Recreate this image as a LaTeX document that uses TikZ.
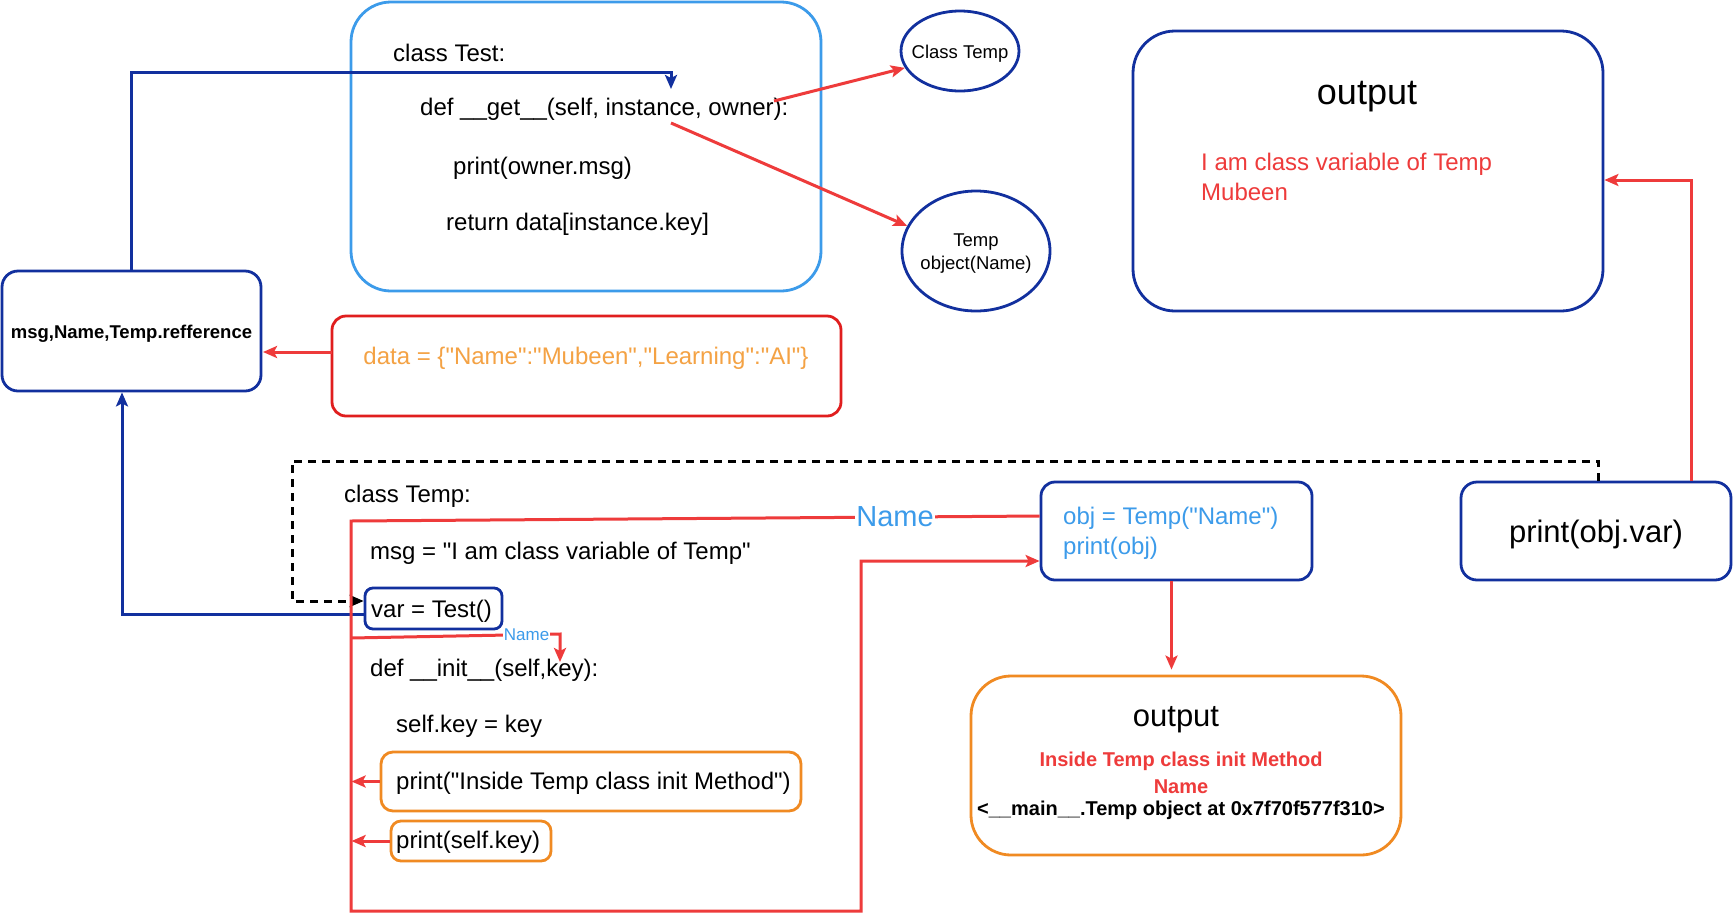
\documentclass[tikz,border=0pt]{standalone}
\usepackage{fontspec}
\setmainfont{Liberation Sans}[Ligatures=TeXOff]
\usetikzlibrary{arrows.meta,shapes.geometric}
\definecolor{dkblue}{HTML}{12309E}
\definecolor{ltblue}{HTML}{3C9BEA}
\definecolor{redl}{HTML}{EE3B3B}
\definecolor{redbox}{HTML}{E01E1E}
\definecolor{orng}{HTML}{F08A22}
\definecolor{orngtxt}{HTML}{F4A244}
\tikzset{
  fs/.style={font=\fontsize{#1}{#1}\selectfont},
  tx/.style={yshift=-2.5pt},
  code/.style={anchor=west,inner sep=0pt,fs=24,tx},
  rbox/.style={draw,line width=2.8pt,rounded corners=#1,inner sep=0pt},
  redline/.style={draw=redl,line width=3pt},
  redarrow/.style={redline,-{Stealth[length=14pt,width=12pt,inset=3pt]}},
  blueline/.style={draw=dkblue,line width=3pt},
  bluearrow/.style={blueline,-{Stealth[length=14pt,width=12pt,inset=3pt]}},
  dashline/.style={draw=black,line width=3pt,dash pattern=on 8pt off 6pt,-{Stealth[length=14pt,width=12pt,inset=3pt]}},
}
\begin{document}
\begin{tikzpicture}[x=1pt,y=-1pt]
\useasboundingbox[fill=white] (0,0) rectangle (1733,922);

% class Test box
\node[rbox=40pt,draw=ltblue,minimum width=470,minimum height=289] (test) at (586,146.5) {};
\node[code] (t1) at (393,50) {class Test:};
\node[code] (t2) at (420,107) {def \_\_get\_\_(self, instance, owner):};
\node[code] (t3) at (453,166) {print(owner.msg)};
\node[code] (t4) at (446,222) {return data[instance.key]};

% ellipses
\node[ellipse,draw=dkblue,line width=2.8pt,minimum width=118,minimum height=80,inner sep=0pt] (ct) at (960,51) {};
\node[fs=18.5,inner sep=0pt,tx] (ctl) at (ct) {Class Temp};
\node[ellipse,draw=dkblue,line width=2.8pt,minimum width=148,minimum height=120,inner sep=0pt] (to) at (976,251) {};
\node[font=\fontsize{18.5}{23}\selectfont,align=center,inner sep=0pt,tx] (tol) at (to) {Temp\\object(Name)};

\coordinate (ga) at (774,101);
\coordinate (gb) at (671,123);
\draw[redarrow] (ga) -- (ct.197);
\draw[redarrow] (gb) -- (to.160);

% output top right
\node[rbox=42pt,draw=dkblue,minimum width=470,minimum height=280] (out1) at (1368,171) {};
\node[fs=36,inner sep=0pt] (out1t) at (1367,96.5) {output};
\node[code,text=redl] (out1a) at (1201,162) {I am class variable of Temp};
\node[code,text=redl] (out1b) at (1201,189.5) {Mubeen};

% msg box
\node[rbox=16pt,draw=dkblue,minimum width=259,minimum height=120] (msg) at (131.5,331) {};
\node[font=\bfseries\fontsize{18.5}{18.5}\selectfont,inner sep=0pt,tx] (msgt) at (131.5,331) {msg,Name,Temp.refference};

% data box
\node[rbox=14pt,draw=redbox,minimum width=509,minimum height=100] (data) at (586.5,366) {};
\node[fs=24,text=orngtxt,inner sep=0pt,tx] (datat) at (586,356) {data = \{"Name":"Mubeen","Learning":"AI"\}};
\coordinate (dl) at (332,352);
\coordinate (ml) at (263,352);
\draw[redarrow] (dl) -- (ml);

% class Temp body
\node[code] (c1) at (344,494) {class Temp:};
\node[code] (c2) at (370,551) {msg = "I am class variable of Temp"};
\node[rbox=8pt,draw=dkblue,minimum width=137,minimum height=41] (var) at (433.5,608.5) {};
\node[code] (vart) at (371,609) {var = Test()};
\node[code] (c3) at (370,668) {def \_\_init\_\_(self,key):};
\node[code] (c4) at (396,724) {self.key = key};
\node[rbox=12pt,draw=orng,minimum width=420,minimum height=59] (ob1) at (591,781.5) {};
\node[code] (ob1t) at (396,781) {print("Inside Temp class init Method")};
\node[rbox=10pt,draw=orng,minimum width=160,minimum height=40] (ob2) at (471,841) {};
\node[code] (ob2t) at (396,840) {print(self.key)};

% obj box
\node[rbox=14pt,draw=dkblue,minimum width=271,minimum height=98] (obj) at (1176.5,531) {};
\node[code,text=ltblue] (objt1) at (1063,516) {obj = Temp("Name")};
\node[code,text=ltblue] (objt2) at (1063,546) {print(obj)};

% output orange
\node[rbox=40pt,draw=orng,minimum width=430,minimum height=179] (out2) at (1186,765.5) {};
\node[fs=31,inner sep=0pt] (out2t) at (1176,720) {output};
\node[font=\bfseries\fontsize{20}{20}\selectfont,text=redl,inner sep=0pt,tx] (o2a) at (1181,759) {Inside Temp class init Method};
\node[font=\bfseries\fontsize{20}{20}\selectfont,text=redl,inner sep=0pt,tx] (o2b) at (1181,784) {Name};
\node[font=\bfseries\fontsize{20}{20}\selectfont,inner sep=0pt,tx] (o2c) at (1181,808) {<\_\_main\_\_.Temp object at 0x7f70f577f310>};

% print(obj.var) box
\node[rbox=16pt,draw=dkblue,minimum width=270,minimum height=98] (pov) at (1596,531) {};
\node[fs=31,inner sep=0pt,tx] (povt) at (1596,532) {print(obj.var)};

% connectors
\draw[redarrow] ([xshift=95pt]pov.north) |- ([yshift=-9pt]out1.east);
\draw[redarrow,shorten >=5pt] ([xshift=-5pt]obj.south) -- ([xshift=-5pt]obj.south |- out2.north);

\draw[dashline] ([xshift=2pt]pov.north) -- (1598,461) -- (292,461) -- (292,601) -- ([yshift=7.5pt]var.west);

\draw[bluearrow] ([yshift=-5.5pt]var.west) -| ([xshift=-9.5pt]msg.south);
\draw[bluearrow] (msg.north) |- (671,72) -- (671,89);

\draw[redarrow] ([yshift=15pt]obj.west) -- node[pos=0.21,fill=white,inner sep=1pt,fs=29,text=ltblue] (nm1) {Name} (351,521) -- (351,911) -- (861,911) -- (861,561) -- ([yshift=-30pt]obj.west);
\draw[redarrow] (351,638) -- node[pos=0.84,fill=white,inner sep=1pt,fs=17,text=ltblue] (nm2) {Name} (560,634) -- (560,662);

\draw[redarrow] (ob1.west) -- ++(-28,0);
\draw[redarrow] (ob2.west) -- ++(-38,0);
\end{tikzpicture}
\end{document}
